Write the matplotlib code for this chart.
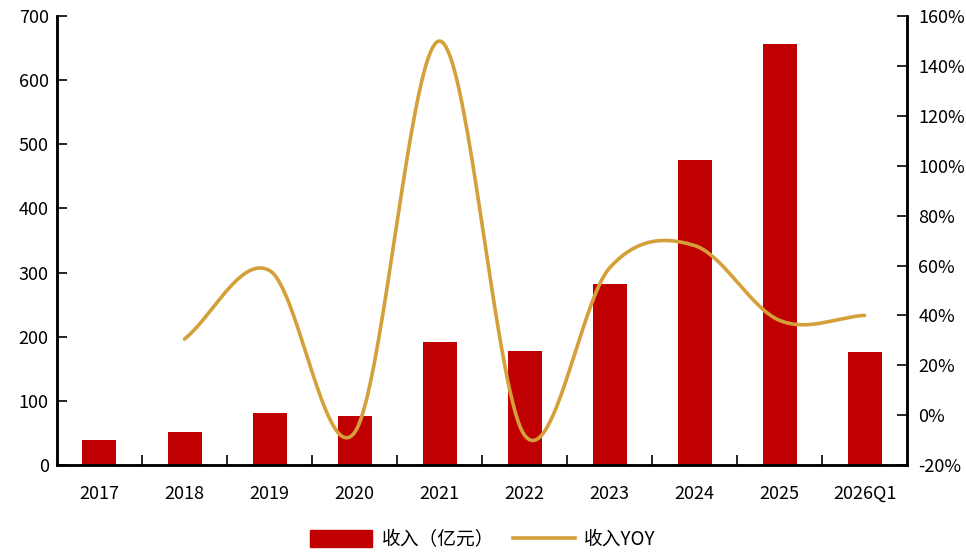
import numpy as np
import matplotlib.pyplot as plt
from matplotlib.patches import Patch
from matplotlib.lines import Line2D

plt.rcParams['font.family'] = ['Noto Sans CJK SC', 'DejaVu Sans']
plt.rcParams['axes.unicode_minus'] = False

# data
years = ['2017', '2018', '2019', '2020', '2021', '2022', '2023', '2024', '2025', '2026Q1']
revenue = [39, 51, 81, 76, 192, 178, 282, 475, 656, 176]          # 亿元
yoy = [None, 30.5, 58, -7, 150, -8, 59, 68, 38, 40]                 # %

bar_color = '#C00000'
line_color = '#D4A03A'


def smooth(xs, ys, n=40):
    # catmull-rom style smoothing, like the spreadsheet "smoothed line"
    xs = np.asarray(xs, float)
    ys = np.asarray(ys, float)
    px = np.concatenate([[2 * xs[0] - xs[1]], xs, [2 * xs[-1] - xs[-2]]])
    py = np.concatenate([[2 * ys[0] - ys[1]], ys, [2 * ys[-1] - ys[-2]]])
    outx, outy = [], []
    for i in range(1, len(px) - 2):
        t = np.linspace(0, 1, n)
        for p, out in ((px, outx), (py, outy)):
            p0, p1, p2, p3 = p[i - 1], p[i], p[i + 1], p[i + 2]
            out.extend(0.5 * ((2 * p1) + (-p0 + p2) * t +
                              (2 * p0 - 5 * p1 + 4 * p2 - p3) * t ** 2 +
                              (-p0 + 3 * p1 - 3 * p2 + p3) * t ** 3))
    return np.array(outx), np.array(outy)


fig = plt.figure(figsize=(9.66, 5.53), dpi=100)
ax = fig.add_axes([0.059, 0.159, 0.88, 0.812])
ax2 = ax.twinx()

x = np.arange(len(years))
ax.bar(x, revenue, width=0.4, color=bar_color, zorder=2)

lx = [i for i, v in zip(x, yoy) if v is not None]
ly = [v for v in yoy if v is not None]
sx, sy = smooth(lx, ly)
ax2.plot(sx, sy, color=line_color, lw=2.6, solid_capstyle='round', zorder=3)

ax.set_xlim(-0.5, len(years) - 0.5)
ax.set_ylim(0, 700)
ax.set_yticks(range(0, 701, 100))
ax2.set_ylim(-20, 160)
ax2.set_yticks(range(-20, 161, 20))
ax2.set_yticklabels([f'{v}%' for v in range(-20, 161, 20)])

ax.set_xticks(x)
ax.set_xticklabels(years)
ax.set_xticks(np.arange(0.5, len(years) - 1, 1), minor=True)
ax.tick_params(axis='x', which='major', length=0, pad=14, labelsize=13)
ax.tick_params(axis='x', which='minor', direction='in', length=7, width=1.2)
ax.tick_params(axis='y', direction='in', length=7, width=1.2, labelsize=13, pad=6)
ax2.tick_params(axis='y', direction='in', length=7, width=1.2, labelsize=13, pad=8)

for a in (ax, ax2):
    a.spines['top'].set_visible(False)
    for s in ('left', 'right', 'bottom'):
        a.spines[s].set_linewidth(1.8)

handles = [Patch(color=bar_color, label='收入（亿元）'),
           Line2D([0], [0], color=line_color, lw=2.6, label='收入YOY')]
fig.legend(handles=handles, loc='lower center', bbox_to_anchor=(0.5, -0.025), ncol=2,
           frameon=False, fontsize=13.5, handlelength=3.3, handleheight=1.0,
           handletextpad=0.5, columnspacing=1.0)

fig.savefig('out.png', dpi=100)
